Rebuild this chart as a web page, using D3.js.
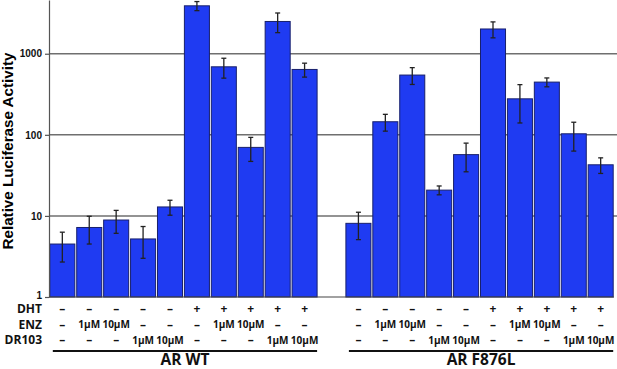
<!DOCTYPE html>
<html>
<head>
	<meta charset="utf-8">
	<title>Luciferase</title>
	<script src="https://cdn.jsdelivr.net/npm/d3@7"></script>
	<style type="text/css">
		body { margin: 0; background: #fff; }
		.tick text { font-family: "Liberation Sans", Arial, sans-serif; font-weight: bold; }
		.tbl { font-family: "Open Sans", sans-serif; font-weight: bold; fill: #111; }
	</style>
</head>
<body>
	<script type="text/javascript">
		// Data (means and SD)
		var groups = ["AR WT", "AR F876L"];
		var wtMeans = [4.5, 7.2, 8.9, 5.2, 12.9, 3900, 690, 70, 2500, 640];
		var wtErr = [1.8, 2.7, 2.8, 2.2, 2.7, 500, 190, 23, 680, 125];
		var mutMeans = [8.1, 145, 546, 20.8, 57, 2020, 278, 447, 103, 42.7];
		var mutErr = [3.0, 34, 128, 2.6, 22, 450, 138, 56, 40, 9.3];
		var dhtRow = ["–", "–", "–", "–", "–", "+", "+", "+", "+", "+"];
		var enzRow = ["–", "1µM", "10µM", "–", "–", "–", "1µM", "10µM", "–", "–"];
		var drRow = ["–", "–", "–", "1µM", "10µM", "–", "–", "–", "1µM", "10µM"];
		var rowNames = ["DHT", "ENZ", "DR103"];
		var yTicks = [1, 10, 100, 1000];

		var width = 617, height = 369;
		var left = 49, right = 614, bottom = 297;

		var svg = d3.select("body").append("svg")
			.attr("width", width)
			.attr("height", height);

		// 21 slots: 10 bars, one empty slot, 10 bars
		var bars = [];
		wtMeans.forEach(function(v, i) {
			bars.push({key: "wt" + i, g: 0, i: i, v: v, e: wtErr[i]});
		});
		mutMeans.forEach(function(v, i) {
			bars.push({key: "mut" + i, g: 1, i: i, v: v, e: mutErr[i]});
		});
		var slots = bars.slice(0, 10).map(function(d) { return d.key; })
			.concat(["gap"])
			.concat(bars.slice(10).map(function(d) { return d.key; }));

		var x = d3.scaleBand()
			.domain(slots)
			.range([left, right])
			.paddingInner(0.07)
			.paddingOuter(0.03);

		var y = d3.scaleLog()
			.domain([1, 4600])
			.range([bottom, 0]);

		// gridlines
		svg.append("g")
			.selectAll("line")
			.data(yTicks.slice(1))
			.enter()
			.append("line")
			  .attr("x1", left)
			  .attr("x2", width)
			  .attr("y1", function(d) { return y(d); })
			  .attr("y2", function(d) { return y(d); })
			  .attr("stroke", "#6f6f6f")
			  .attr("stroke-width", 1.5);

		// bars
		svg.append("g")
			.selectAll("rect")
			.data(bars)
			.enter()
			.append("rect")
			  .attr("x", function(d) { return x(d.key); })
			  .attr("y", function(d) { return y(d.v); })
			  .attr("width", x.bandwidth())
			  .attr("height", function(d) { return bottom - y(d.v); })
			  .attr("fill", "#1f3bf2")
			  .attr("stroke", "#18206b")
			  .attr("stroke-width", 1);

		// error bars
		var eb = svg.append("g")
			.attr("stroke", "#222")
			.attr("stroke-width", 1.3);
		bars.forEach(function(d) {
			var cx = x(d.key) + x.bandwidth() / 2;
			var hi = y(d.v + d.e), lo = y(d.v - d.e);
			eb.append("line").attr("x1", cx).attr("x2", cx).attr("y1", hi).attr("y2", lo);
			eb.append("line").attr("x1", cx - 2.5).attr("x2", cx + 2.5).attr("y1", hi).attr("y2", hi);
			eb.append("line").attr("x1", cx - 2.5).attr("x2", cx + 2.5).attr("y1", lo).attr("y2", lo);
		});

		// axes
		svg.append("g")
			.attr("transform", "translate(" + left + ",0)")
			.call(d3.axisLeft(y).tickValues(yTicks).tickFormat(d3.format("d")).tickSize(4).tickSizeOuter(0))
			.call(function(g) {
				g.selectAll("text").attr("font-size", 10).attr("fill", "#111");
				g.selectAll("text").filter(function(d) { return d === 1; }).attr("dy", "0.1em");
				g.selectAll("line, path").attr("stroke", "#555").attr("stroke-width", 1.2);
			});

		svg.append("line")
			.attr("x1", left).attr("x2", right)
			.attr("y1", bottom).attr("y2", bottom)
			.attr("stroke", "#444")
			.attr("stroke-width", 1.2);

		svg.append("text")
			.attr("transform", "translate(13,151) rotate(-90)")
			.attr("text-anchor", "middle")
			.attr("font-family", "Liberation Sans, Arial, sans-serif")
			.attr("font-weight", "bold")
			.attr("font-size", 15.2)
			.text("Relative Luciferase Activity");

		// condition table
		var rows = [dhtRow, enzRow, drRow];
		var rowY = [312.5, 328.5, 344];
		rowNames.forEach(function(name, r) {
			svg.append("text")
				.attr("class", "tbl")
				.attr("x", 42)
				.attr("y", rowY[r])
				.attr("text-anchor", "end")
				.attr("font-size", 12)
				.text(name);
		});
		bars.forEach(function(d) {
			var cx = x(d.key) + x.bandwidth() / 2;
			rows.forEach(function(row, r) {
				var s = row[d.i];
				svg.append("text")
					.attr("class", "tbl")
					.attr("x", cx)
					.attr("y", rowY[r] - (s.length > 1 ? 0.5 : 0))
					.attr("text-anchor", "middle")
					.attr("font-size", s.length > 1 ? 10 : 12)
					.text(s);
			});
		});

		// group underlines and labels
		groups.forEach(function(name, g) {
			var first = bars[g * 10].key, last = bars[g * 10 + 9].key;
			var x1 = x(first) + 3, x2 = x(last) + x.bandwidth();
			svg.append("line")
				.attr("x1", x1).attr("x2", x2)
				.attr("y1", 351).attr("y2", 351)
				.attr("stroke", "#111")
				.attr("stroke-width", 2);
			svg.append("text")
				.attr("class", "tbl")
				.attr("x", (x1 + x2) / 2)
				.attr("y", 364.5)
				.attr("text-anchor", "middle")
				.attr("font-size", 15.5)
				.text(name);
		});
	</script>
</body>
</html>
